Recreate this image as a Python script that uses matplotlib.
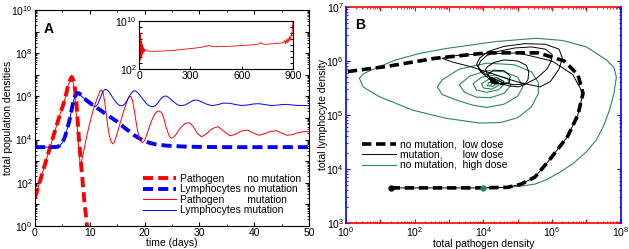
import numpy as np
import matplotlib.pyplot as plt
from matplotlib.ticker import LogLocator, FuncFormatter, MultipleLocator, NullFormatter

plt.rcParams['font.family'] = ['Liberation Sans', 'DejaVu Sans']
plt.rcParams['mathtext.default'] = 'regular'
plt.rcParams['font.size'] = 7.5

# ---- panel A, no mutation (log10 values) ----
days_nm = [0, 1, 2, 3, 4, 4.5, 5, 5.5, 6, 6.4, 6.7, 7.0, 7.3, 7.6, 8.0, 8.5, 9.0, 9.5, 10,
           11, 12, 13, 14, 15, 16, 17, 18, 19, 20, 21, 22, 24, 27, 30, 35, 40, 45, 50]
path_nm = [1.3, 2.15, 3.0, 3.85, 4.7, 5.1, 5.5, 5.9, 6.45, 6.75, 6.9, 6.75, 6.35, 5.6,
           4.1, 2.6, 1.2, 0.0, -1.2]
lymph_nm = [3.65, 3.65, 3.65, 3.65, 3.66, 3.72, 3.85, 4.15, 4.6, 5.0, 5.4, 5.75, 6.0, 6.15,
            6.15, 6.05, 5.9, 5.8, 5.7, 5.52, 5.35, 5.17, 5.0, 4.83, 4.62, 4.42, 4.22, 4.06,
            3.93, 3.84, 3.78, 3.72, 3.68, 3.66, 3.65, 3.65, 3.65, 3.65]

# ---- panel A, mutation (log10 values) ----
days_mut = [0, 1, 2, 3, 4, 4.5, 5, 5.5, 6, 6.4, 6.7,
            7.0, 7.3, 7.6, 7.9, 8.1, 8.3, 8.6, 9.0, 9.4, 9.8,
            10.2, 10.6, 11.0, 11.4, 11.8, 12.1, 12.4, 12.7, 13.0, 13.3,
            13.6, 13.9, 14.2, 14.5, 14.9, 15.3, 15.7, 16.1, 16.5, 16.9,
            17.2, 17.5, 17.8, 18.1, 18.4, 18.7, 19.0, 19.3, 19.6, 19.9,
            20.3, 20.7, 21.1, 21.5, 21.9, 22.3, 22.7, 23.1, 23.5, 23.9,
            24.3, 24.6, 24.9, 25.3, 25.7, 26.1, 26.5,
            27.4, 28.2, 28.9, 29.6, 30.4, 31.2, 32.3, 33.4, 34.4, 35.6,
            36.6, 37.7, 38.8, 39.9, 40.9, 42, 43, 44.1, 45, 46,
            47, 48, 49, 50]
path_mut = [1.3, 2.15, 3.0, 3.85, 4.7, 5.1, 5.5, 5.9, 6.45, 6.75, 6.9,
            6.6, 6.0, 5.0, 3.9, 3.2, 2.8, 3.1, 3.6, 4.1, 4.55,
            4.95, 5.35, 5.65, 5.95, 6.2, 6.3, 6.2, 5.8, 5.2, 4.6,
            4.15, 3.9, 3.8, 3.9, 4.2, 4.55, 4.9, 5.25, 5.55, 5.85,
            5.98, 6.0, 5.8, 5.4, 4.9, 4.45, 4.1, 3.92, 3.85, 3.92,
            4.15, 4.45, 4.75, 5.0, 5.2, 5.3, 5.32, 5.25, 5.0, 4.6,
            4.3, 4.13, 4.06, 4.12, 4.22, 4.38, 4.52,
            4.75, 4.78, 4.6, 4.3, 4.13, 4.25, 4.5, 4.6, 4.4, 4.17,
            4.25, 4.4, 4.44, 4.3, 4.2, 4.28, 4.38, 4.41, 4.3, 4.2,
            4.23, 4.32, 4.37, 4.37]
lymph_mut = [3.65, 3.65, 3.65, 3.65, 3.66, 3.72, 3.85, 4.15, 4.6, 5.0, 5.4,
             5.75, 6.0, 6.15, 6.13, 6.1, 6.05, 5.98, 5.9, 5.8, 5.7,
             5.62, 5.56, 5.52, 5.62, 5.85, 6.05, 6.22, 6.31, 6.32, 6.27,
             6.18, 6.06, 5.94, 5.83, 5.7, 5.6, 5.56, 5.58, 5.68, 5.85,
             6.0, 6.12, 6.22, 6.26, 6.24, 6.18, 6.1, 6.0, 5.9, 5.8,
             5.68, 5.59, 5.54, 5.52, 5.56, 5.66, 5.8, 5.92, 6.0, 6.02,
             5.97, 5.9, 5.84, 5.75, 5.67, 5.6, 5.57,
             5.6, 5.72, 5.82, 5.83, 5.75, 5.65, 5.57, 5.62, 5.69, 5.68,
             5.62, 5.58, 5.6, 5.65, 5.66, 5.62, 5.58, 5.59, 5.62, 5.63,
             5.6, 5.58, 5.58, 5.57]

# ---- inset, long run of pathogen with mutation ----
inset_t = [0, 2, 4, 6, 8, 10, 12, 14, 16, 18, 20, 22, 25, 28, 31, 35, 40, 50, 70, 100,
           150, 200, 250, 300, 350, 380, 400, 410, 420, 440, 480, 550, 600, 650, 700, 710,
           720, 740, 780, 820, 840, 850, 855, 860, 865, 870, 875, 880, 885, 890, 893, 896, 900]
inset_v = [5.5, 8.8, 3.2, 8.0, 3.6, 7.2, 4.0, 6.6, 4.3, 6.1, 4.5, 5.8, 4.7, 5.5, 4.85, 5.3,
           5.1, 5.0, 4.95, 4.95, 5.0, 5.1, 5.25, 5.4, 5.55, 5.7, 5.85, 5.95, 5.8, 5.7, 5.72,
           5.8, 5.9, 6.0, 6.15, 6.4, 6.2, 6.1, 6.2, 6.3, 6.35, 6.7, 6.2, 6.9, 6.3, 7.1, 6.5,
           7.4, 6.8, 8.0, 7.5, 9.0, 10.0]

# ---- panel B, high dose without mutation (log10 pathogen, log10 lymphocytes) ----
high_path = [4.0, 4.6, 5.06, 5.5, 5.83, 6.2, 6.61, 7.0, 7.29, 7.5, 7.67, 7.8, 7.87, 7.8,
             7.58, 7.0, 6.3, 5.54, 4.36, 2.9, 2.15, 1.45, 0.8, 0.5, 0.39, 0.5, 0.97, 1.94,
             2.9, 3.9, 4.5, 5.0, 5.4, 5.6, 5.6, 5.4, 4.9, 4.1, 3.3, 2.8, 2.66, 2.8, 3.2, 3.7,
             4.1, 4.6, 5.0, 5.15, 5.0, 4.6, 4.1, 3.6, 3.3, 3.45, 3.8, 4.2, 4.6, 4.8, 4.7,
             4.35, 3.95, 3.7, 3.8, 4.1, 4.45, 4.6, 4.45, 4.15, 3.95, 4.0, 4.25, 4.45, 4.35,
             4.15, 4.12, 4.28, 4.35, 4.25, 4.22]
high_lymph = [3.65, 3.66, 3.68, 3.72, 3.8, 3.93, 4.1, 4.32, 4.54, 4.8, 5.09, 5.4, 5.7, 5.88,
              6.02, 6.26, 6.38, 6.42, 6.36, 6.23, 6.14, 6.02, 5.85, 5.76, 5.68, 5.52, 5.34,
              5.09, 4.94, 4.85, 4.86, 4.95, 5.15, 5.4, 5.6, 5.8, 5.93, 5.96, 5.85, 5.65, 5.52,
              5.38, 5.28, 5.18, 5.14, 5.2, 5.35, 5.52, 5.7, 5.8, 5.82, 5.72, 5.56, 5.42, 5.33,
              5.32, 5.4, 5.55, 5.68, 5.74, 5.7, 5.58, 5.46, 5.42, 5.47, 5.57, 5.65, 5.66, 5.58,
              5.5, 5.48, 5.55, 5.62, 5.6, 5.54, 5.53, 5.57, 5.59, 5.55]

green = '#2a8a55'


def pow10(step):
    def f(v, pos):
        e = int(round(np.log10(v)))
        return f'$10^{{{e}}}$' if e % step == 0 else ''
    return f


def log_axis(axis, step):
    axis.set_major_locator(LogLocator(base=10, subs=(1.0,), numticks=100))
    axis.set_minor_locator(LogLocator(base=10, subs=np.arange(2, 10), numticks=100))
    axis.set_major_formatter(FuncFormatter(pow10(step)))
    axis.set_minor_formatter(NullFormatter())


fig = plt.figure(figsize=(6.29, 2.49), dpi=100)

# ---------------- panel A ----------------
axA = fig.add_axes([0.0556, 0.0924, 0.4356, 0.8676])
n = len(path_nm)
axA.plot(days_nm[:n], 10 ** np.array(path_nm), color='red', lw=2.8, ls=(0, (2.6, 1.3)),
         label='Pathogen        no mutation')
axA.plot(days_nm, 10 ** np.array(lymph_nm), color='blue', lw=2.8, ls=(0, (2.6, 1.3)),
         label='Lymphocytes no mutation')
axA.plot(days_mut, 10 ** np.array(path_mut), color='red', lw=0.7,
         label='Pathogen        mutation')
axA.plot(days_mut, 10 ** np.array(lymph_mut), color='blue', lw=0.7,
         label='Lymphocytes mutation')
axA.set_yscale('log')
axA.set_xlim(0, 50)
axA.set_ylim(1, 1e10)
log_axis(axA.yaxis, 2)
axA.xaxis.set_major_locator(MultipleLocator(10))
axA.xaxis.set_minor_locator(MultipleLocator(5))
axA.tick_params(which='both', direction='in', top=True, right=True, pad=1.5)
axA.tick_params(which='major', length=3)
axA.tick_params(which='minor', length=1.5)
axA.set_xlabel('time (days)', labelpad=0)
axA.set_ylabel('total population densities', labelpad=-1)
axA.text(0.03, 0.945, 'A', transform=axA.transAxes, fontsize=10, fontweight='bold',
         va='top')
axA.legend(loc='lower right', bbox_to_anchor=(0.985, 0.03), frameon=False,
           handlelength=3.2, handletextpad=0.3, labelspacing=0.05, borderaxespad=0,
           fontsize=7.5)

# inset
axI = fig.add_axes([0.221, 0.723, 0.245, 0.193])
axI.plot(inset_t, 10 ** np.array(inset_v), color='red', lw=0.6)
axI.set_yscale('log')
axI.set_xlim(0, 900)
axI.set_ylim(1e2, 1e10)
axI.yaxis.set_major_locator(LogLocator(base=10, subs=(1.0,), numticks=100))
axI.yaxis.set_major_formatter(FuncFormatter(lambda v, p: f'$10^{{{int(round(np.log10(v)))}}}$'
                                            if round(np.log10(v)) in (2, 10) else ''))
axI.yaxis.set_minor_locator(plt.NullLocator())
axI.set_xticks([0, 300, 600, 900])
axI.tick_params(which='both', direction='in', right=True, length=2, pad=1.5)

# ---------------- panel B ----------------
axB = fig.add_axes([0.55, 0.1044, 0.437, 0.8676])
axB.plot(10 ** np.array(high_path), 10 ** np.array(high_lymph), color=green, lw=0.8,
         label='no mutation,  high dose')
axB.plot(10 ** np.array(path_mut), 10 ** np.array(lymph_mut), color='black', lw=0.7,
         label='mutation,       low dose')
axB.plot(10 ** np.array(path_nm), 10 ** np.array(lymph_nm[:n]), color='black', lw=2.6,
         ls=(0, (2.6, 1.3)), label='no mutation,  low dose')
axB.plot(10 ** path_nm[0], 10 ** lymph_nm[0], 'o', color='black', ms=3.5)
axB.plot(10 ** high_path[0], 10 ** high_lymph[0], 'o', color=green, ms=3.5)
axB.set_xscale('log')
axB.set_yscale('log')
axB.set_xlim(1, 1e8)
axB.set_ylim(1e3, 1e7)
log_axis(axB.xaxis, 2)
log_axis(axB.yaxis, 1)
axB.tick_params(which='both', direction='in', top=True, right=True, pad=1.5)
axB.tick_params(which='major', length=3)
axB.tick_params(which='minor', length=1.5)
axB.tick_params(axis='x', which='both', color='red', labelcolor='black')
axB.tick_params(axis='y', which='both', color='blue', labelcolor='black')
# coloured frame: red top/bottom, blue left/right
for s in axB.spines.values():
    s.set_visible(False)
for y0 in (0, 1):
    axB.plot([0, 1], [y0, y0], transform=axB.transAxes, color='red', lw=1.2,
             clip_on=False, zorder=5)
for x0 in (0, 1):
    axB.plot([x0, x0], [0, 1], transform=axB.transAxes, color='blue', lw=1.2,
             clip_on=False, zorder=5)
axB.set_xlabel('total pathogen density', labelpad=0)
axB.set_ylabel('total lymphocyte density', labelpad=-1)
axB.text(0.035, 0.95, 'B', transform=axB.transAxes, fontsize=10, fontweight='bold',
         va='top')
h, l = axB.get_legend_handles_labels()
axB.legend(h[:3][::-1], l[:3][::-1], loc='lower left', bbox_to_anchor=(0.045, 0.225),
           frameon=False, handlelength=3.2, handletextpad=0.4, labelspacing=0.05,
           borderaxespad=0, fontsize=7.5)

fig.savefig('out.png', dpi=100)
